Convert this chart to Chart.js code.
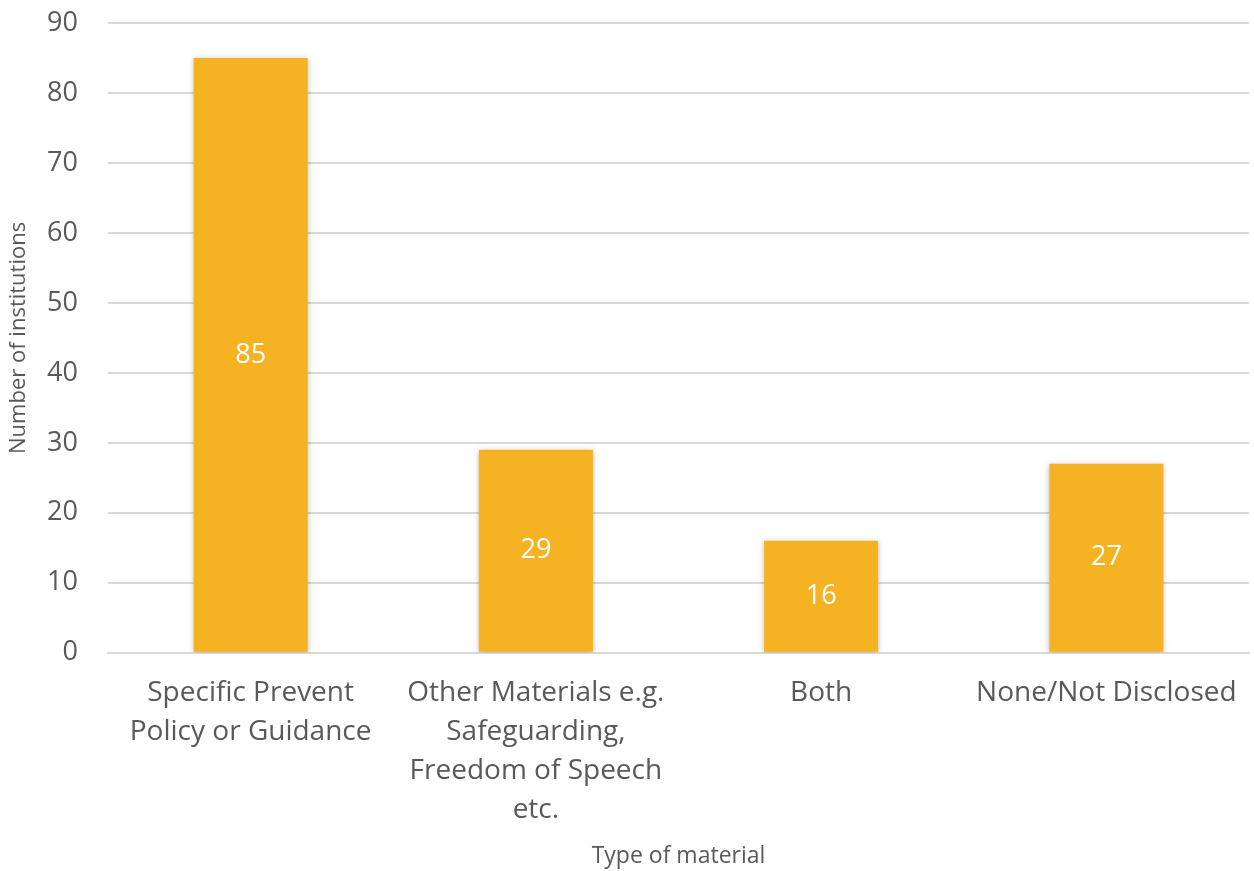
<!DOCTYPE html>
<html lang="en">
<head>
    <meta charset="UTF-8">
    <title>Type of material</title>
    <script src="https://cdn.jsdelivr.net/npm/chart.js"></script>
    <style>
        * { margin: 0; padding: 0; box-sizing: border-box; }
        body { background: #ffffff; width: 1254px; height: 871px; overflow: hidden; }
        .chart-box { position: relative; width: 1254px; height: 871px; }
    </style>
</head>
<body>
    <div class="chart-box">
        <canvas id="materialChart"></canvas>
    </div>

    <script>
        // Chart data
        const categories = [
            ['Specific Prevent', 'Policy or Guidance'],
            ['Other Materials e.g.', 'Safeguarding,', 'Freedom of Speech', 'etc.'],
            'Both',
            'None/Not Disclosed'
        ];
        const institutions = [85, 29, 16, 27];
        const yTicks = [0, 10, 20, 30, 40, 50, 60, 70, 80, 90];

        const FONT = "'Open Sans', sans-serif";
        const GREY = '#595959';

        // white value labels in the middle of each bar
        const barLabels = {
            id: 'barLabels',
            afterDatasetsDraw(chart) {
                const ctx = chart.ctx;
                const meta = chart.getDatasetMeta(0);
                ctx.save();
                ctx.fillStyle = '#ffffff';
                ctx.font = '27px ' + FONT;
                ctx.textAlign = 'center';
                ctx.textBaseline = 'middle';
                meta.data.forEach((bar, i) => {
                    const mid = (bar.y + bar.base) / 2;
                    ctx.fillText(institutions[i], bar.x, mid);
                });
                ctx.restore();
            }
        };

        // soft shadow behind the bars
        const barShadow = {
            id: 'barShadow',
            beforeDatasetsDraw(chart) {
                const ctx = chart.ctx;
                ctx.save();
                ctx.shadowColor = 'rgba(0,0,0,0.25)';
                ctx.shadowBlur = 6;
                ctx.shadowOffsetX = 0;
                ctx.shadowOffsetY = 1;
            },
            afterDatasetsDraw(chart) {
                chart.ctx.restore();
            }
        };

        new Chart(document.getElementById('materialChart'), {
            type: 'bar',
            data: {
                labels: categories,
                datasets: [{
                    label: 'Number of institutions',
                    data: institutions,
                    backgroundColor: '#F5B222',
                    categoryPercentage: 1.0,
                    barPercentage: 0.4
                }]
            },
            options: {
                responsive: true,
                maintainAspectRatio: false,
                animation: false,
                layout: { padding: { top: 23, right: 5, left: 4, bottom: 1 } },
                plugins: {
                    legend: { display: false },
                    tooltip: { enabled: false }
                },
                scales: {
                    y: {
                        min: 0,
                        max: 90,
                        afterBuildTicks(axis) {
                            axis.ticks = yTicks.map(v => ({ value: v }));
                        },
                        afterFit(axis) {
                            axis.width = 104;
                            axis.paddingTop = 0;
                        },
                        grid: { color: '#d9d9d9', lineWidth: 2, drawTicks: false },
                        border: { display: false },
                        ticks: {
                            color: GREY,
                            padding: 30,
                            font: { family: FONT, size: 27 }
                        },
                        title: {
                            display: true,
                            text: 'Number of institutions',
                            color: GREY,
                            font: { family: FONT, size: 22 },
                            padding: { top: 2, bottom: 4 }
                        }
                    },
                    x: {
                        grid: { display: false },
                        border: { display: true, color: '#d9d9d9', width: 2 },
                        ticks: {
                            color: GREY,
                            padding: 13,
                            maxRotation: 0,
                            autoSkip: false,
                            font: { family: FONT, size: 28, lineHeight: 1.39 }
                        },
                        title: {
                            display: true,
                            text: 'Type of material',
                            color: GREY,
                            font: { family: FONT, size: 23 },
                            padding: { top: 0, bottom: 0 }
                        }
                    }
                }
            },
            plugins: [barShadow, barLabels]
        });
    </script>
</body>
</html>
